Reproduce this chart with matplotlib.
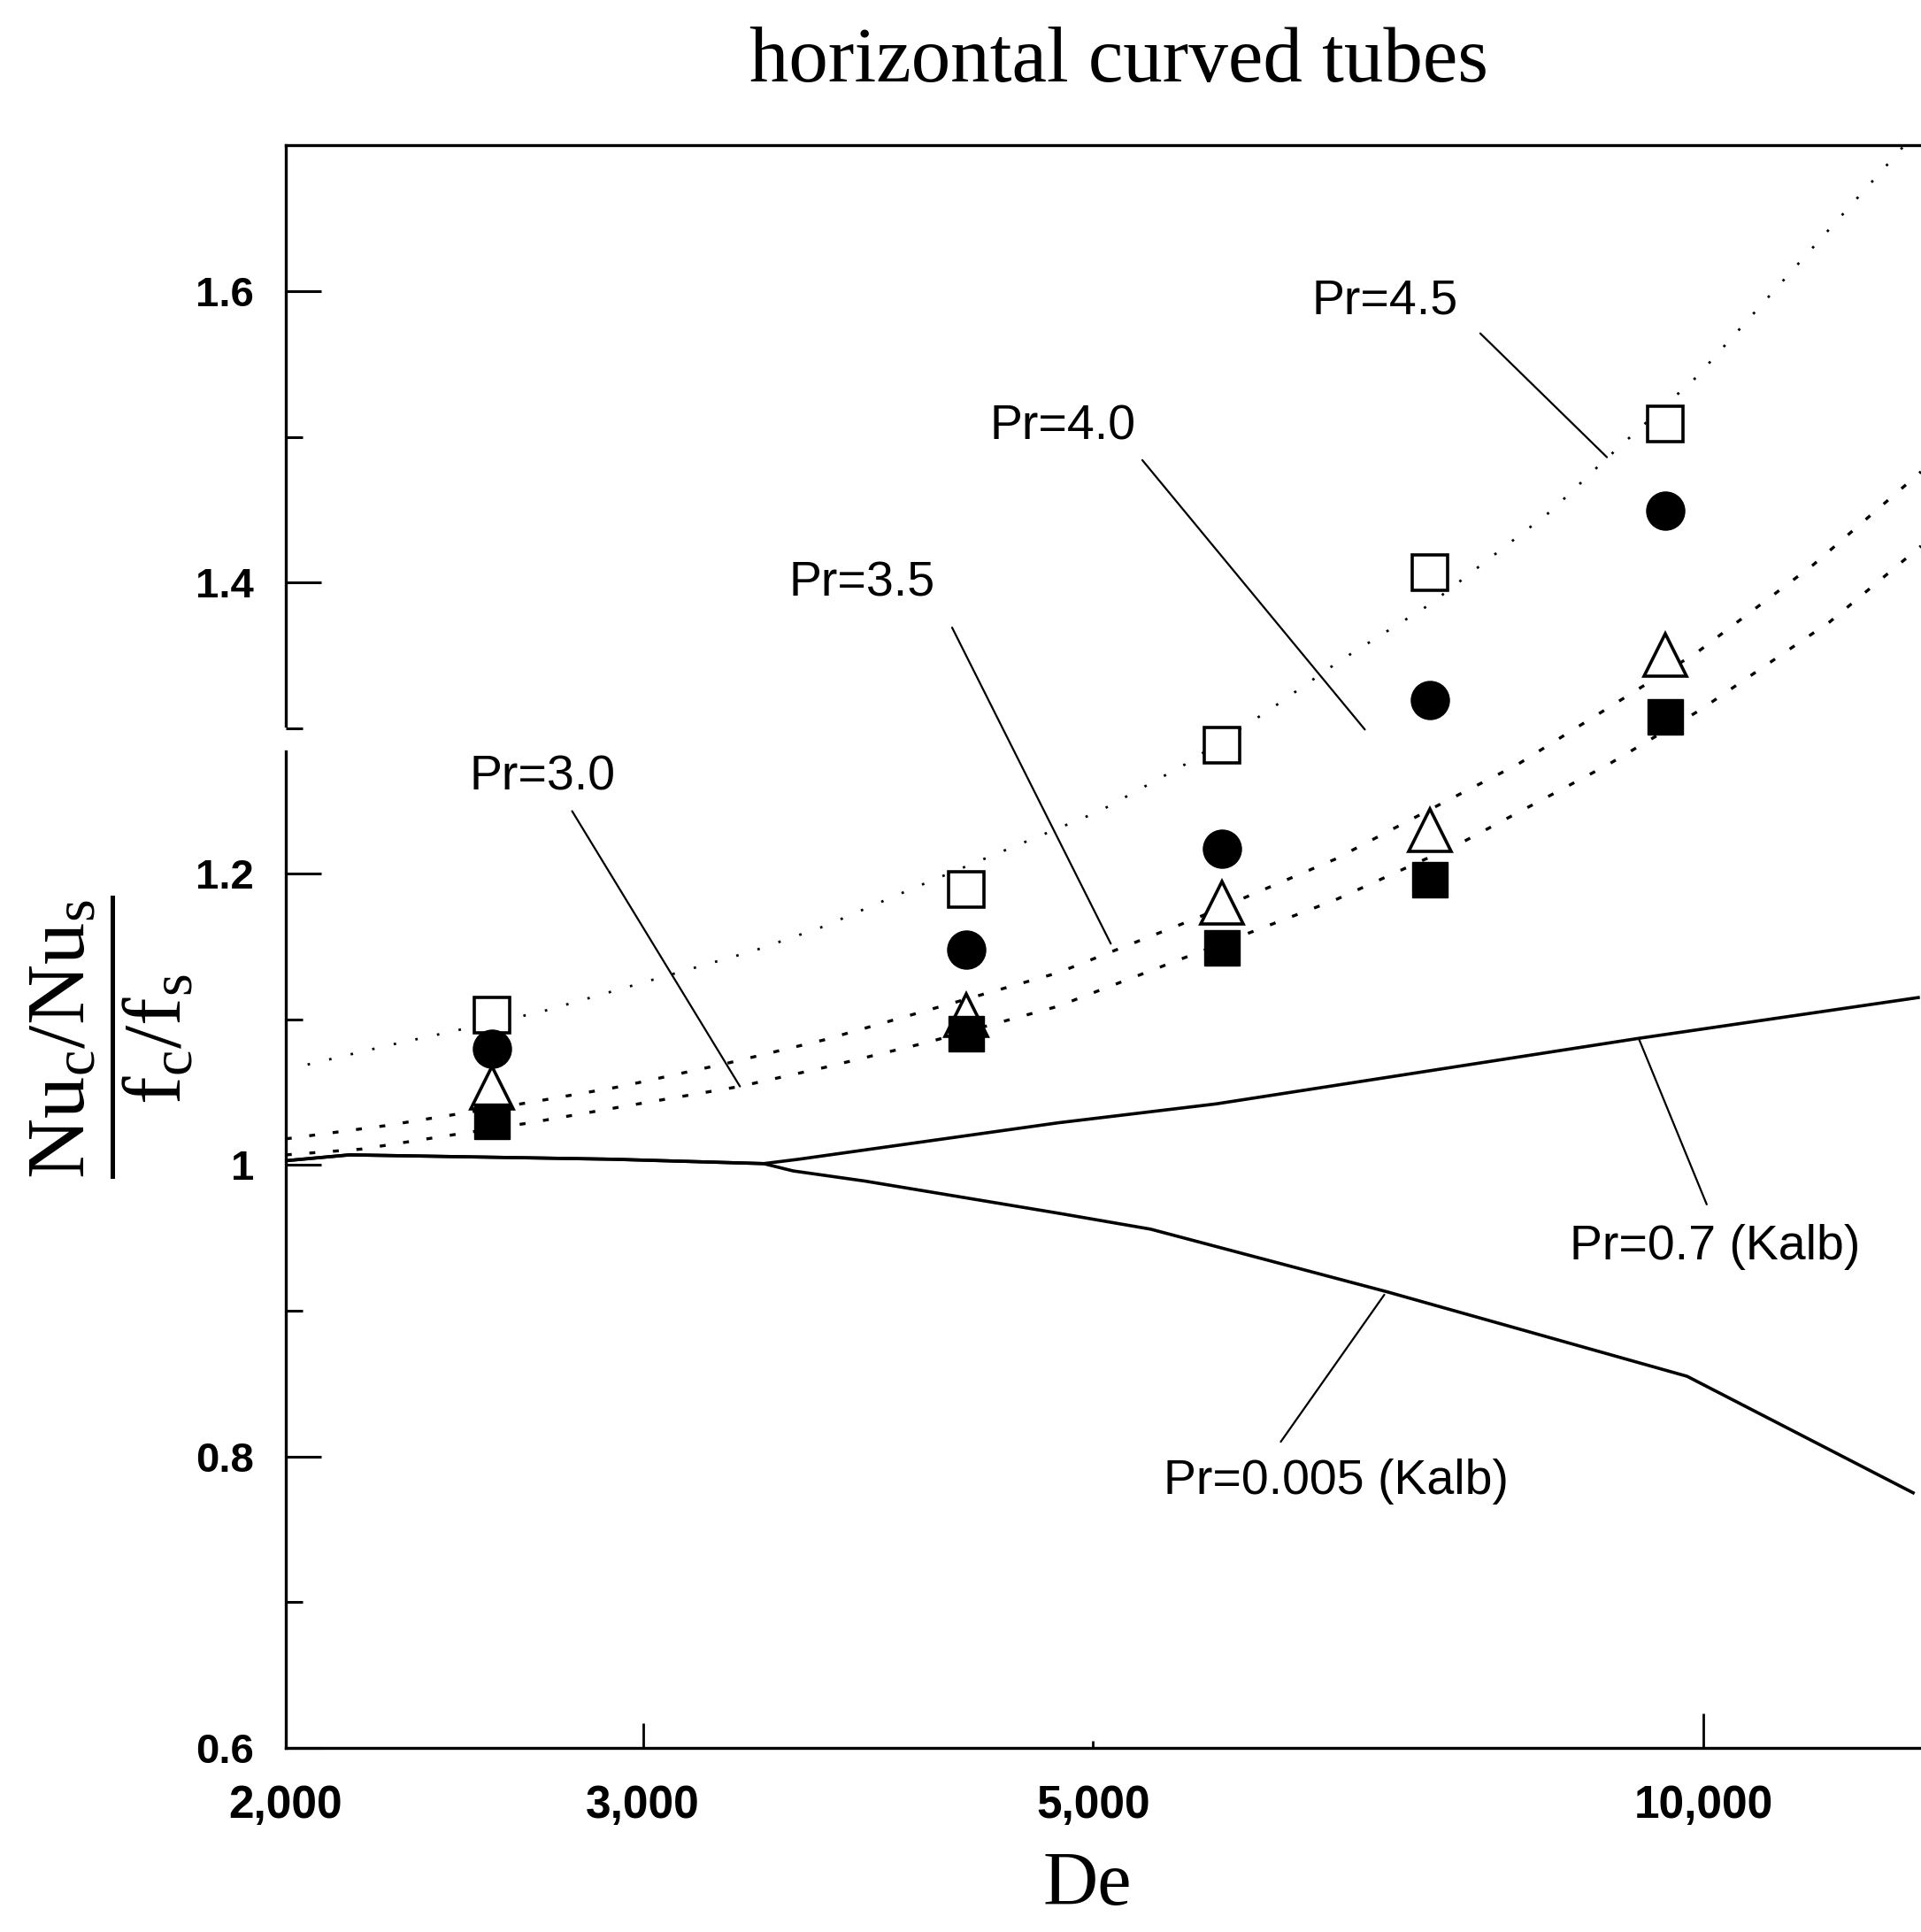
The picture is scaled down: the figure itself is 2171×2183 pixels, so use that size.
import matplotlib
matplotlib.use('Agg')
import matplotlib.pyplot as plt
from matplotlib import rc
from matplotlib.ticker import FixedLocator, NullLocator

rc('font', family='Liberation Sans')
rc('mathtext', fontset='custom', rm='Liberation Serif', it='Liberation Serif:italic')

# measured points (De, Nu ratio / f ratio)
de_pts = [2527, 4328, 5786, 7331, 9572]
pr45_pts = [1.103, 1.189, 1.288, 1.407, 1.509]   # open squares
pr40_pts = [1.080, 1.148, 1.217, 1.319, 1.449]   # filled circles
pr35_pts = [1.053, 1.103, 1.180, 1.230, 1.350]   # open triangles
pr30_pts = [1.030, 1.090, 1.149, 1.196, 1.308]   # filled squares

# correlation curves
de_pr45 = [2050, 2244, 2669, 3100, 3400, 3686, 4060, 5038, 5550, 6102, 6614,
           7331, 8410, 8955, 9920, 12250, 12800]
pr45 = [1.069, 1.082, 1.105, 1.131, 1.147, 1.164, 1.189, 1.243, 1.275, 1.312,
        1.346, 1.385, 1.449, 1.485, 1.541, 1.683, 1.713]

de_pr35 = [2000, 2238, 2638, 2927, 3303, 3686, 4137, 4805, 5612, 6582, 7422,
           8096, 9927, 11324, 12800]
pr35 = [1.018, 1.027, 1.043, 1.054, 1.070, 1.086, 1.106, 1.132, 1.169, 1.210,
        1.248, 1.275, 1.352, 1.412, 1.476]

de_pr30 = [2000, 2180, 2638, 2927, 3349, 3686, 4137, 4805, 5960, 6582, 7590,
           8974, 9950, 11542, 12800]
pr30 = [1.007, 1.011, 1.029, 1.040, 1.054, 1.067, 1.084, 1.109, 1.159, 1.182,
        1.221, 1.275, 1.312, 1.373, 1.425]

# Kalb curves
de_k07 = [2000, 2150, 2900, 3440, 3580, 4805, 5750, 9290, 12760]
k07 = [1.003, 1.007, 1.004, 1.001, 1.004, 1.029, 1.042, 1.087, 1.115]
de_k005 = [2000, 2150, 2900, 3440, 3557, 3860, 4805, 5338, 6981, 9814, 12686]
k005 = [1.003, 1.007, 1.004, 1.001, 0.996, 0.989, 0.967, 0.956, 0.913, 0.855, 0.775]

x_ticks = [2000, 3000, 5000, 10000]
x_labels = ['2,000', '3,000', '5,000', '10,000']
y_ticks = [0.6, 0.8, 1.0, 1.2, 1.4, 1.6]
y_labels = ['0.6', '0.8', '1', '1.2', '1.4', '1.6']
y_minor = [0.7, 0.9, 1.1, 1.3, 1.5]

# label text, text centre, leader start, leader end
labels = [
    ('Pr=4.5', (6966, 1.593), (7761, 1.571), (8961, 1.486)),
    ('Pr=4.0', (4830, 1.507), (5288, 1.484), (6808, 1.299)),
    ('Pr=3.5', (3848, 1.399), (4261, 1.369), (5102, 1.152)),
    ('Pr=3.0', (2676, 1.266), (2768, 1.243), (3349, 1.054)),
    ('Pr=0.7 (Kalb)', (10130, 0.944), (10036, 0.973), (9290, 1.087)),
    ('Pr=0.005 (Kalb)', (6592, 0.783), (6188, 0.810), (6960, 0.911)),
]


def graph():
    fig = plt.figure(figsize=(21.71, 21.83), dpi=100)
    ax = fig.add_axes([0.1488, 0.0954, 0.8512, 0.8293])
    ax.set_xscale('log')
    ax.set_xlim(2000, 12800)
    ax.set_ylim(0.6, 1.7)

    ax.plot(de_pr45, pr45, color='k', lw=2, linestyle=(0, (1, 8)))
    ax.plot(de_pr35, pr35, color='k', lw=2.4, linestyle=(0, (2, 6)))
    ax.plot(de_pr30, pr30, color='k', lw=2.4, linestyle=(0, (2, 6)))
    ax.plot(de_k07, k07, color='k', lw=2.6)
    ax.plot(de_k005, k005, color='k', lw=2.6)

    ax.plot(de_pts, pr45_pts, 's', ms=29, mfc='white', mec='k', mew=2.6, ls='none')
    ax.plot(de_pts, pr35_pts, '^', ms=34, mfc='white', mec='k', mew=2.6, ls='none')
    ax.plot(de_pts, pr40_pts, 'o', ms=31, mfc='k', mec='k', ls='none')
    ax.plot(de_pts, pr30_pts, 's', ms=29, mfc='k', mec='k', ls='none')

    for txt, pos, start, end in labels:
        ax.text(pos[0], pos[1], txt, ha='center', va='center', fontsize=40)
        ax.annotate('', xy=end, xytext=start,
                    arrowprops=dict(arrowstyle='-', color='k', lw=1.6,
                                    shrinkA=0, shrinkB=0))

    # axes frame, left side has a small break as in the scan
    for s in ['top', 'bottom']:
        ax.spines[s].set_linewidth(2.4)
    ax.spines['right'].set_visible(False)
    ax.spines['left'].set_visible(False)
    ax.axvline(2000, 0, 0.622, color='k', lw=2.4, clip_on=False)
    ax.axvline(2000, 0.638, 1, color='k', lw=2.4, clip_on=False)

    ax.xaxis.set_major_locator(FixedLocator(x_ticks))
    ax.xaxis.set_minor_locator(NullLocator())
    ax.set_xticklabels(x_labels, fontweight='bold')
    ax.tick_params(axis='x', direction='in', length=20, width=2, pad=30,
                   labelsize=37, top=False)
    for t, L in zip(ax.xaxis.get_major_ticks(), [0, 20, 6, 28]):
        t.tick1line.set_markersize(L)

    ax.yaxis.set_major_locator(FixedLocator(y_ticks))
    ax.yaxis.set_minor_locator(FixedLocator(y_minor))
    ax.set_yticklabels(y_labels, fontweight='bold')
    ax.tick_params(axis='y', which='major', direction='in', length=29, width=2.2,
                   pad=26, labelsize=34, right=False)
    ax.tick_params(axis='y', which='minor', direction='in', length=14, width=2.2,
                   right=False)

    fig.text(0.5825, 0.958, 'horizontal curved tubes', family='Liberation Serif',
             fontsize=64, ha='center', va='baseline')
    fig.text(0.566, 0.014, 'De', family='Liberation Serif', fontsize=62,
             ha='center', va='baseline')
    fig.text(0.058, 0.463, r'$\dfrac{\mathrm{Nu_c/Nu_s}}{\mathrm{f_c/f_s}}$',
             fontsize=68, rotation=90, ha='center', va='center')

    fig.savefig('out.png', dpi=100)


if __name__ == '__main__':
    graph()
